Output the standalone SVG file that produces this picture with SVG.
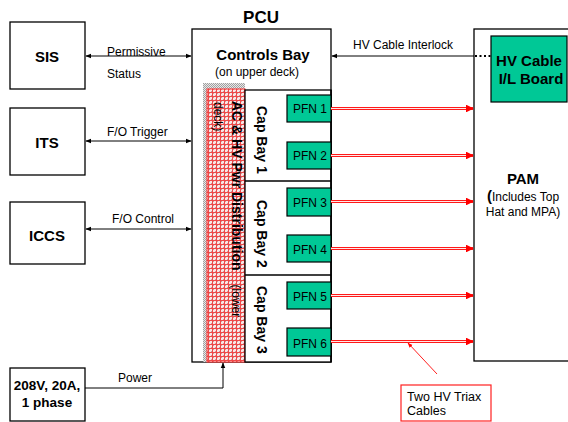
<svg xmlns="http://www.w3.org/2000/svg" width="568" height="422" viewBox="0 0 568 422">
<defs>
<style>
text{font-family:"Liberation Sans",Arial,sans-serif;fill:#000}
.box{fill:#fff;stroke:#000;stroke-width:1.3}
.pfn{fill:#00c896;stroke:#000;stroke-width:1.2}
.b{font-weight:bold}
.lbl{font-size:12px}
.pl{font-size:12px}
.ln{stroke:#000;stroke-width:1;fill:none}
.red{stroke:#ff1a1a;stroke-width:3;fill:none}
.redin{stroke:#ffe8e8;stroke-width:1;fill:none}
</style>
<marker id="ah" viewBox="0 0 10 10" refX="9" refY="5" markerWidth="6" markerHeight="6" orient="auto-start-reverse"><path d="M0,1 L10,5 L0,9 z" fill="#000"/></marker>
<marker id="rh" viewBox="0 0 10 10" refX="9" refY="5" markerWidth="2.6" markerHeight="2.6" orient="auto"><path d="M0,0 L10,5 L0,10 z" fill="#ff0000"/></marker>
<marker id="rs" viewBox="0 0 10 10" refX="9" refY="5" markerWidth="5" markerHeight="5" orient="auto"><path d="M0,1 L10,5 L0,9 z" fill="#ff0000"/></marker>
<pattern id="gray" width="2" height="2" patternUnits="userSpaceOnUse"><rect width="2" height="2" fill="#e8e8e8"/><rect width="1" height="1" fill="#a0a0a0"/><rect x="1" y="1" width="1" height="1" fill="#a0a0a0"/></pattern>
<pattern id="redg" width="4" height="4" patternUnits="userSpaceOnUse"><rect width="4" height="4" fill="#fbe4e4"/><rect x="1" y="1" width="1" height="1" fill="#c0a0a0"/><rect x="3" y="3" width="1" height="1" fill="#c0a0a0"/><rect x="2" y="0" width="0" height="0"/><rect width="4" height="1" fill="#f04848"/><rect width="1" height="4" fill="#f04848"/></pattern>
</defs>

<g id="pcu">
<rect class="box" x="192" y="29" width="139" height="333"/>
<text class="b" x="261" y="23" font-size="17" text-anchor="middle">PCU</text>
<text class="b" x="263" y="60" font-size="15" text-anchor="middle">Controls Bay</text>
<text x="257" y="76" font-size="12" text-anchor="middle">(on upper deck)</text>
</g>

<g id="distribution">
<rect x="203" y="83" width="42" height="279" fill="url(#gray)"/>
<rect x="207" y="89" width="38" height="273" fill="url(#redg)" stroke="#ff3030" stroke-width="1"/>
<text transform="translate(232,101) rotate(90)" font-size="14"><tspan class="b">AC &amp; HV Pwr Distribution</tspan><tspan font-size="12" dx="14">(lower</tspan></text>
<text transform="translate(214,102) rotate(90)" font-size="12">deck)</text>
</g>

<g id="capbays">
<rect x="245" y="90" width="86" height="272" fill="#fff" stroke="#000" stroke-width="1.3"/>
<line x1="245" y1="181" x2="331" y2="181" stroke="#000" stroke-width="1.5"/>
<line x1="245" y1="275" x2="331" y2="275" stroke="#000" stroke-width="1.5"/>
<line x1="331" y1="90" x2="331" y2="362" stroke="#000" stroke-width="1.5"/>
<text class="b" transform="translate(257,106) rotate(90)" font-size="14">Cap Bay 1</text>
<text class="b" transform="translate(257,200) rotate(90)" font-size="14">Cap Bay 2</text>
<text class="b" transform="translate(257,286) rotate(90)" font-size="14">Cap Bay 3</text>
</g>

<g id="pfn1"><rect class="pfn" x="287" y="95" width="44" height="27"/><text class="pl" x="310" y="113" text-anchor="middle">PFN 1</text></g>
<g id="pfn2"><rect class="pfn" x="287" y="142" width="44" height="27"/><text class="pl" x="310" y="160" text-anchor="middle">PFN 2</text></g>
<g id="pfn3"><rect class="pfn" x="287" y="188" width="44" height="28"/><text class="pl" x="310" y="207" text-anchor="middle">PFN 3</text></g>
<g id="pfn4"><rect class="pfn" x="287" y="235" width="44" height="27"/><text class="pl" x="310" y="254" text-anchor="middle">PFN 4</text></g>
<g id="pfn5"><rect class="pfn" x="287" y="282" width="44" height="27"/><text class="pl" x="310" y="301" text-anchor="middle">PFN 5</text></g>
<g id="pfn6"><rect class="pfn" x="287" y="328" width="44" height="28"/><text class="pl" x="310" y="348" text-anchor="middle">PFN 6</text></g>

<g id="sis"><rect class="box" x="10" y="22" width="75" height="67"/><text class="b" x="47" y="62" font-size="15" text-anchor="middle">SIS</text></g>
<g id="its"><rect class="box" x="10" y="108" width="75" height="67"/><text class="b" x="47" y="148" font-size="15" text-anchor="middle">ITS</text></g>
<g id="iccs"><rect class="box" x="10" y="202" width="75" height="62"/><text class="b" x="47" y="241" font-size="15" text-anchor="middle">ICCS</text></g>
<g id="power"><rect class="box" x="10" y="368" width="75" height="53"/><text class="b" x="47" y="390" font-size="13.5" text-anchor="middle">208V, 20A,</text><text class="b" x="47" y="407" font-size="13.5" text-anchor="middle">1 phase</text></g>

<g id="pam">
<rect class="box" x="474" y="29" width="100" height="332"/>
<text class="b" x="523" y="184" font-size="15" text-anchor="middle">PAM</text>
<text x="523" y="201" font-size="12" text-anchor="middle"><tspan font-size="15" font-weight="bold">(</tspan>Includes Top</text>
<text x="523" y="216" font-size="12" text-anchor="middle">Hat and MPA)</text>
</g>
<g id="ilboard">
<rect class="pfn" x="491" y="36" width="76" height="66"/>
<text class="b" x="529" y="66" font-size="15" text-anchor="middle">HV Cable</text>
<text class="b" x="531" y="84" font-size="15" text-anchor="middle">I/L Board</text>
</g>

<g id="callout">
<rect x="401" y="385" width="90" height="36" fill="#fff" stroke="#ff2020" stroke-width="1.2"/>
<text x="407" y="401" font-size="12.5">Two HV Triax</text>
<text x="407" y="415" font-size="12.5">Cables</text>
</g>

<g id="connectors">
<line class="ln" x1="86" y1="56" x2="191" y2="56" marker-start="url(#ah)" marker-end="url(#ah)"/>
<text class="lbl" x="107" y="56">Permissive</text>
<text class="lbl" x="107" y="78">Status</text>
<line class="ln" x1="86" y1="141" x2="191" y2="141" marker-start="url(#ah)" marker-end="url(#ah)"/>
<text class="lbl" x="107" y="136">F/O Trigger</text>
<line class="ln" x1="86" y1="229" x2="191" y2="229" marker-start="url(#ah)" marker-end="url(#ah)"/>
<text class="lbl" x="112" y="223">F/O Control</text>
<path class="ln" d="M85,388 H223 V363" marker-end="url(#ah)"/>
<text class="lbl" x="118" y="382">Power</text>
<line class="ln" x1="474" y1="56" x2="332" y2="56" marker-end="url(#ah)"/>
<line x1="475" y1="56" x2="491" y2="56" stroke="#000" stroke-width="2" stroke-dasharray="2,2.5"/>
<text class="lbl" x="353" y="49">HV Cable Interlock</text>
<g>
<line class="red" x1="331" y1="108.5" x2="473" y2="108.5" marker-end="url(#rh)"/>
<line class="redin" x1="331" y1="108.5" x2="466" y2="108.5"/>
<line class="red" x1="331" y1="155.5" x2="473" y2="155.5" marker-end="url(#rh)"/>
<line class="redin" x1="331" y1="155.5" x2="466" y2="155.5"/>
<line class="red" x1="331" y1="201.5" x2="473" y2="201.5" marker-end="url(#rh)"/>
<line class="redin" x1="331" y1="201.5" x2="466" y2="201.5"/>
<line class="red" x1="331" y1="248.5" x2="473" y2="248.5" marker-end="url(#rh)"/>
<line class="redin" x1="331" y1="248.5" x2="466" y2="248.5"/>
<line class="red" x1="331" y1="295.5" x2="473" y2="295.5" marker-end="url(#rh)"/>
<line class="redin" x1="331" y1="295.5" x2="466" y2="295.5"/>
<line class="red" x1="331" y1="341.5" x2="473" y2="341.5" marker-end="url(#rh)"/>
<line class="redin" x1="331" y1="341.5" x2="466" y2="341.5"/>
</g>
<line x1="437" y1="374" x2="408" y2="343" stroke="#ff2020" stroke-width="1" marker-end="url(#rs)"/>
</g>
</svg>
